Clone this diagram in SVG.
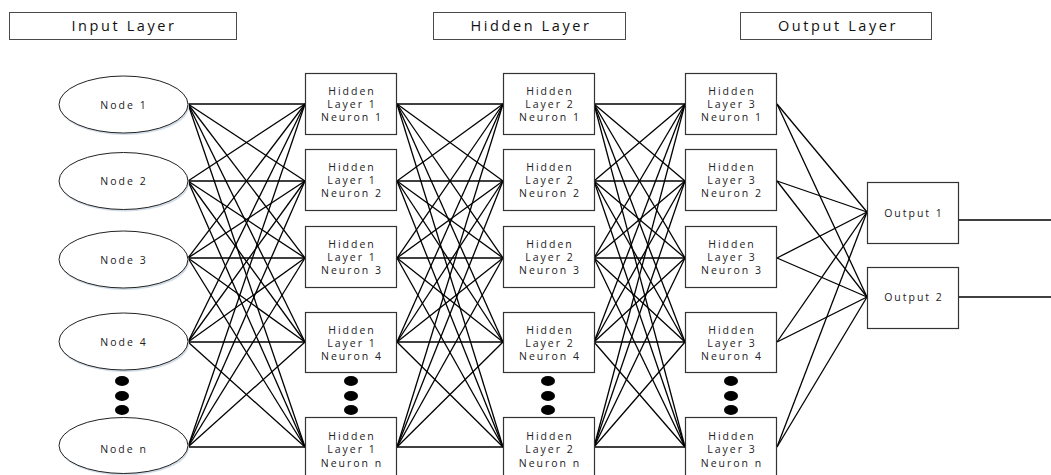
<svg xmlns="http://www.w3.org/2000/svg" width="1051" height="475" viewBox="0 0 1051 475">
<style>
.title{fill:#fff;stroke:#4a4a4a;stroke-width:1}
.tt{font-family:"Open Sans","Liberation Sans",sans-serif;font-size:14.5px;letter-spacing:2.6px;fill:#111;text-anchor:middle}
.ell{fill:#fff;stroke:#222;stroke-width:1}
.sh{fill:#d3dde8;stroke:none}
.box{fill:#fff;stroke:#333;stroke-width:1.2}
.lbl{font-family:"Open Sans","Liberation Sans",sans-serif;font-size:10.5px;letter-spacing:2px;fill:#222;text-anchor:middle}
.dot{fill:#000}
.conn line,.conn polyline{stroke:#000;stroke-width:1.3;fill:none}
</style>
<rect width="1051" height="475" fill="#fff"/>

<g id="title-input"><rect class="title" x="9.5" y="12.5" width="227" height="27"/><text class="tt" x="124" y="31">Input Layer</text></g>
<g id="title-hidden"><rect class="title" x="433.5" y="12.5" width="192" height="27"/><text class="tt" x="531" y="31">Hidden Layer</text></g>
<g id="title-output"><rect class="title" x="740.5" y="12.5" width="191" height="27"/><text class="tt" x="838" y="31">Output Layer</text></g>

<g class="conn" id="connectors">
<line x1="188" y1="104" x2="305" y2="104"/><line x1="188" y1="104" x2="305" y2="181"/><line x1="188" y1="104" x2="305" y2="258"/><line x1="188" y1="104" x2="305" y2="342"/><line x1="188" y1="104" x2="305" y2="447"/>
<line x1="188" y1="181" x2="305" y2="104"/><line x1="188" y1="181" x2="305" y2="181"/><line x1="188" y1="181" x2="305" y2="258"/><line x1="188" y1="181" x2="305" y2="342"/><line x1="188" y1="181" x2="305" y2="447"/>
<line x1="188" y1="258" x2="305" y2="104"/><line x1="188" y1="258" x2="305" y2="181"/><line x1="188" y1="258" x2="305" y2="258"/><line x1="188" y1="258" x2="305" y2="342"/><line x1="188" y1="258" x2="305" y2="447"/>
<line x1="188" y1="342" x2="305" y2="104"/><line x1="188" y1="342" x2="305" y2="181"/><line x1="188" y1="342" x2="305" y2="258"/><line x1="188" y1="342" x2="305" y2="342"/><line x1="188" y1="342" x2="305" y2="447"/>
<line x1="188" y1="447" x2="305" y2="104"/><line x1="188" y1="447" x2="305" y2="181"/><line x1="188" y1="447" x2="305" y2="258"/><line x1="188" y1="447" x2="305" y2="342"/><line x1="188" y1="447" x2="305" y2="447"/>
<line x1="397" y1="104" x2="503" y2="104"/><line x1="397" y1="104" x2="503" y2="181"/><line x1="397" y1="104" x2="503" y2="258"/><line x1="397" y1="104" x2="503" y2="342"/><line x1="397" y1="104" x2="503" y2="447"/>
<line x1="397" y1="181" x2="503" y2="104"/><line x1="397" y1="181" x2="503" y2="181"/><line x1="397" y1="181" x2="503" y2="258"/><line x1="397" y1="181" x2="503" y2="342"/><line x1="397" y1="181" x2="503" y2="447"/>
<line x1="397" y1="258" x2="503" y2="104"/><line x1="397" y1="258" x2="503" y2="181"/><line x1="397" y1="258" x2="503" y2="258"/><line x1="397" y1="258" x2="503" y2="342"/><line x1="397" y1="258" x2="503" y2="447"/>
<line x1="397" y1="342" x2="503" y2="104"/><line x1="397" y1="342" x2="503" y2="181"/><line x1="397" y1="342" x2="503" y2="258"/><line x1="397" y1="342" x2="503" y2="342"/><line x1="397" y1="342" x2="503" y2="447"/>
<line x1="397" y1="447" x2="503" y2="104"/><line x1="397" y1="447" x2="503" y2="181"/><line x1="397" y1="447" x2="503" y2="258"/><line x1="397" y1="447" x2="503" y2="342"/><line x1="397" y1="447" x2="503" y2="447"/>
<line x1="594" y1="104" x2="685" y2="104"/><line x1="594" y1="104" x2="685" y2="181"/><line x1="594" y1="104" x2="685" y2="258"/><line x1="594" y1="104" x2="685" y2="342"/><line x1="594" y1="104" x2="685" y2="447"/>
<line x1="594" y1="181" x2="685" y2="104"/><line x1="594" y1="181" x2="685" y2="181"/><line x1="594" y1="181" x2="685" y2="258"/><line x1="594" y1="181" x2="685" y2="342"/><line x1="594" y1="181" x2="685" y2="447"/>
<line x1="594" y1="258" x2="685" y2="104"/><line x1="594" y1="258" x2="685" y2="181"/><line x1="594" y1="258" x2="685" y2="258"/><line x1="594" y1="258" x2="685" y2="342"/><line x1="594" y1="258" x2="685" y2="447"/>
<line x1="594" y1="342" x2="685" y2="104"/><line x1="594" y1="342" x2="685" y2="181"/><line x1="594" y1="342" x2="685" y2="258"/><line x1="594" y1="342" x2="685" y2="342"/><line x1="594" y1="342" x2="685" y2="447"/>
<line x1="594" y1="447" x2="685" y2="104"/><line x1="594" y1="447" x2="685" y2="181"/><line x1="594" y1="447" x2="685" y2="258"/><line x1="594" y1="447" x2="685" y2="342"/><line x1="594" y1="447" x2="685" y2="447"/>
<line x1="777" y1="104" x2="867" y2="212"/><line x1="777" y1="104" x2="867" y2="297"/>
<line x1="777" y1="181" x2="867" y2="212"/><line x1="777" y1="181" x2="867" y2="297"/>
<line x1="777" y1="258" x2="867" y2="212"/><line x1="777" y1="258" x2="867" y2="297"/>
<line x1="777" y1="342" x2="867" y2="212"/><line x1="777" y1="342" x2="867" y2="297"/>
<line x1="777" y1="447" x2="867" y2="212"/><line x1="777" y1="447" x2="867" y2="297"/>
<polyline points="958,212 958,220 1051,220"/>
<line x1="958" y1="297" x2="1051" y2="297"/>
</g>

<g id="node-1"><ellipse class="sh" cx="124.5" cy="106.5" rx="64.5" ry="28.5"/><ellipse class="ell" cx="123.5" cy="104.5" rx="64.5" ry="28.5"/><text class="lbl" x="124" y="108.5">Node 1</text></g>
<g id="node-2"><ellipse class="sh" cx="124.5" cy="183" rx="64.5" ry="28.5"/><ellipse class="ell" cx="123.5" cy="181" rx="64.5" ry="28.5"/><text class="lbl" x="124" y="185">Node 2</text></g>
<g id="node-3"><ellipse class="sh" cx="124.5" cy="261.5" rx="64.5" ry="28.5"/><ellipse class="ell" cx="123.5" cy="259.5" rx="64.5" ry="28.5"/><text class="lbl" x="124" y="263.5">Node 3</text></g>
<g id="node-4"><ellipse class="sh" cx="124.5" cy="343.5" rx="64.5" ry="28.5"/><ellipse class="ell" cx="123.5" cy="341.5" rx="64.5" ry="28.5"/><text class="lbl" x="124" y="345.5">Node 4</text></g>
<g id="node-n"><ellipse class="sh" cx="124.5" cy="447.5" rx="64.5" ry="28"/><ellipse class="ell" cx="123.5" cy="445.5" rx="64.5" ry="28"/><text class="lbl" x="124" y="453">Node n</text></g>
<g id="dots-input"><ellipse class="dot" cx="122" cy="381" rx="7" ry="5"/><ellipse class="dot" cx="122" cy="396" rx="7" ry="5"/><ellipse class="dot" cx="122" cy="410" rx="7" ry="5"/></g>

<g id="h1-1"><rect class="box" x="305.5" y="73.5" width="91" height="61"/><text class="lbl" x="352" y="95">Hidden</text><text class="lbl" x="352" y="107.5">Layer 1</text><text class="lbl" x="352" y="121">Neuron 1</text></g>
<g id="h1-2"><rect class="box" x="305.5" y="149.5" width="91" height="61"/><text class="lbl" x="352" y="171">Hidden</text><text class="lbl" x="352" y="183.5">Layer 1</text><text class="lbl" x="352" y="197">Neuron 2</text></g>
<g id="h1-3"><rect class="box" x="305.5" y="226.5" width="91" height="61"/><text class="lbl" x="352" y="248">Hidden</text><text class="lbl" x="352" y="260.5">Layer 1</text><text class="lbl" x="352" y="274">Neuron 3</text></g>
<g id="h1-4"><rect class="box" x="305.5" y="312.5" width="91" height="60"/><text class="lbl" x="352" y="334">Hidden</text><text class="lbl" x="352" y="346.5">Layer 1</text><text class="lbl" x="352" y="360">Neuron 4</text></g>
<g id="h1-n"><rect class="box" x="305.5" y="417.5" width="91" height="61"/><text class="lbl" x="352" y="440">Hidden</text><text class="lbl" x="352" y="453">Layer 1</text><text class="lbl" x="352" y="467">Neuron n</text></g>
<g id="dots-h1"><ellipse class="dot" cx="351" cy="381" rx="7" ry="5"/><ellipse class="dot" cx="351" cy="396" rx="7" ry="5"/><ellipse class="dot" cx="351" cy="410" rx="7" ry="5"/></g>

<g id="h2-1"><rect class="box" x="503.5" y="73.5" width="91" height="61"/><text class="lbl" x="550" y="95">Hidden</text><text class="lbl" x="550" y="107.5">Layer 2</text><text class="lbl" x="550" y="121">Neuron 1</text></g>
<g id="h2-2"><rect class="box" x="503.5" y="149.5" width="91" height="61"/><text class="lbl" x="550" y="171">Hidden</text><text class="lbl" x="550" y="183.5">Layer 2</text><text class="lbl" x="550" y="197">Neuron 2</text></g>
<g id="h2-3"><rect class="box" x="503.5" y="226.5" width="91" height="61"/><text class="lbl" x="550" y="248">Hidden</text><text class="lbl" x="550" y="260.5">Layer 2</text><text class="lbl" x="550" y="274">Neuron 3</text></g>
<g id="h2-4"><rect class="box" x="503.5" y="312.5" width="91" height="60"/><text class="lbl" x="550" y="334">Hidden</text><text class="lbl" x="550" y="346.5">Layer 2</text><text class="lbl" x="550" y="360">Neuron 4</text></g>
<g id="h2-n"><rect class="box" x="503.5" y="417.5" width="91" height="61"/><text class="lbl" x="550" y="440">Hidden</text><text class="lbl" x="550" y="453">Layer 2</text><text class="lbl" x="550" y="467">Neuron n</text></g>
<g id="dots-h2"><ellipse class="dot" cx="548" cy="381" rx="7" ry="5"/><ellipse class="dot" cx="548" cy="396" rx="7" ry="5"/><ellipse class="dot" cx="548" cy="410" rx="7" ry="5"/></g>

<g id="h3-1"><rect class="box" x="685.5" y="73.5" width="91" height="61"/><text class="lbl" x="732" y="95">Hidden</text><text class="lbl" x="732" y="107.5">Layer 3</text><text class="lbl" x="732" y="121">Neuron 1</text></g>
<g id="h3-2"><rect class="box" x="685.5" y="149.5" width="91" height="61"/><text class="lbl" x="732" y="171">Hidden</text><text class="lbl" x="732" y="183.5">Layer 3</text><text class="lbl" x="732" y="197">Neuron 2</text></g>
<g id="h3-3"><rect class="box" x="685.5" y="226.5" width="91" height="61"/><text class="lbl" x="732" y="248">Hidden</text><text class="lbl" x="732" y="260.5">Layer 3</text><text class="lbl" x="732" y="274">Neuron 3</text></g>
<g id="h3-4"><rect class="box" x="685.5" y="312.5" width="91" height="60"/><text class="lbl" x="732" y="334">Hidden</text><text class="lbl" x="732" y="346.5">Layer 3</text><text class="lbl" x="732" y="360">Neuron 4</text></g>
<g id="h3-n"><rect class="box" x="685.5" y="417.5" width="91" height="61"/><text class="lbl" x="732" y="440">Hidden</text><text class="lbl" x="732" y="453">Layer 3</text><text class="lbl" x="732" y="467">Neuron n</text></g>
<g id="dots-h3"><ellipse class="dot" cx="731" cy="381" rx="7" ry="5"/><ellipse class="dot" cx="731" cy="396" rx="7" ry="5"/><ellipse class="dot" cx="731" cy="410" rx="7" ry="5"/></g>

<g id="output-1"><rect class="box" x="867.5" y="182.5" width="91" height="61"/><text class="lbl" x="914" y="216.5">Output 1</text></g>
<g id="output-2"><rect class="box" x="867.5" y="267.5" width="91" height="61"/><text class="lbl" x="914" y="301">Output 2</text></g>
</svg>
